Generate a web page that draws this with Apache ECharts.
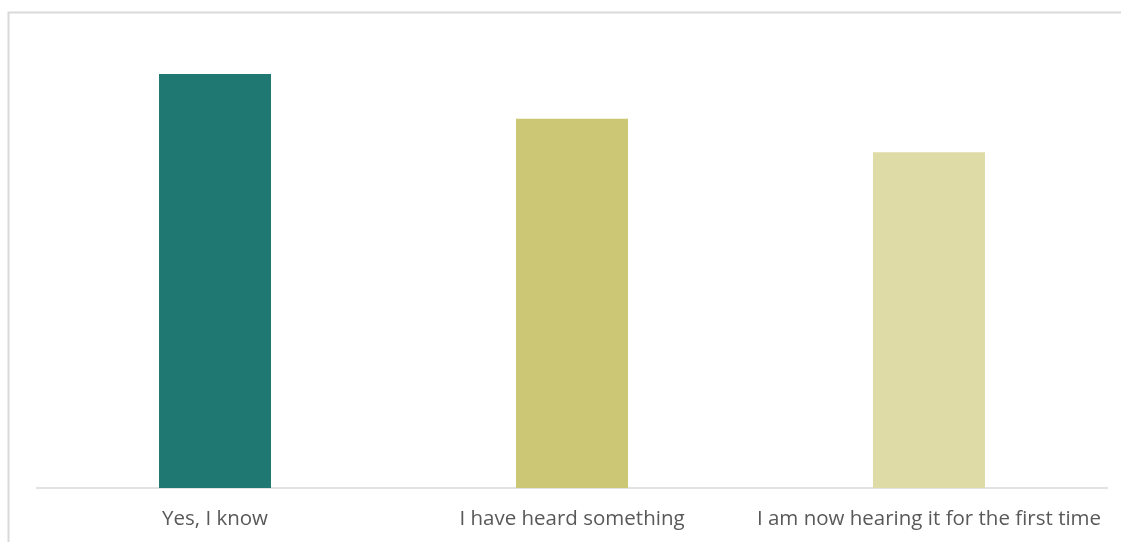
<!DOCTYPE html>
<html><head><meta charset="utf-8">
<script src="https://cdn.jsdelivr.net/npm/echarts@6/dist/echarts.min.js"></script>
<style>html,body{margin:0;padding:0;background:#fff}#c{width:1121px;height:542px}</style>
</head><body><div id="c"></div>
<script>
const categories = ["Yes, I know", "I have heard something", "I am now hearing it for the first time"];
const values = [37, 33, 30];
const colors = ["#1F7872", "#CCC775", "#DEDBA6"];

const chart = echarts.init(document.getElementById('c'));
chart.setOption({
  animation: false,
  graphic: [{
    type: 'rect', left: 6, top: 10,
    shape: { width: 1130, height: 560 },
    style: { fill: 'none', stroke: '#D9D9D9', lineWidth: 2 },
    silent: true
  }],
  grid: { left: 36.5, right: 13.5, top: 40.4, bottom: 54 },
  xAxis: {
    type: 'category', data: categories,
    axisLine: { lineStyle: { color: '#D9D9D9', width: 1.5 } },
    axisTick: { show: false },
    axisLabel: { interval: 0, color: '#595959', fontFamily: 'Open Sans', fontSize: 20.5, margin: 21 }
  },
  yAxis: { type: 'value', min: 0, max: 40, show: false, splitLine: { show: false } },
  series: [{
    type: 'bar', barWidth: 112,
    data: values.map((v, i) => ({ value: v, itemStyle: { color: colors[i] } }))
  }]
});
</script></body></html>
